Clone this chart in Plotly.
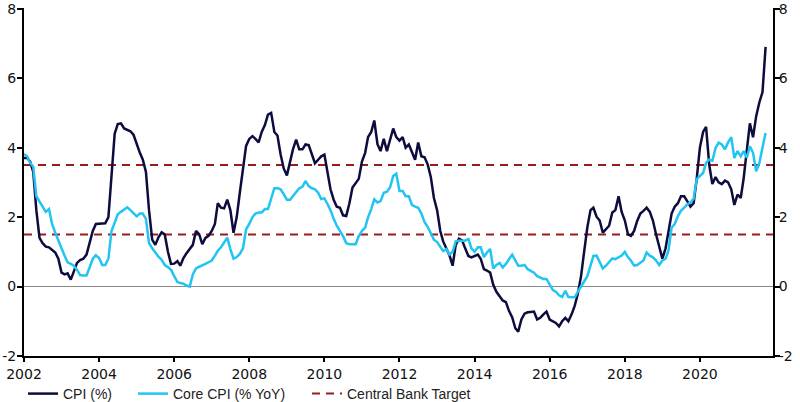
import pandas as pd
import plotly.graph_objects as go

# Monthly data, Jan 2002 .. Oct 2021
cpi = [
    3.7, 3.7, 3.6, 3.3, 2.2, 1.4, 1.25, 1.15, 1.13, 1.05, 0.98, 0.8,          # 2002
    0.4, 0.35, 0.38, 0.2, 0.42, 0.68, 0.76, 0.8, 0.92, 1.25, 1.6, 1.8,        # 2003
    1.8, 1.8, 1.82, 2.0, 3.3, 4.4, 4.68, 4.7, 4.55, 4.5, 4.47, 4.37,          # 2004
    4.1, 3.85, 3.66, 3.3, 2.2, 1.35, 1.2, 1.42, 1.56, 1.5, 1.0, 0.65,         # 2005
    0.66, 0.73, 0.6, 0.82, 0.96, 1.08, 1.2, 1.6, 1.5, 1.22, 1.4, 1.46,        # 2006
    1.6, 1.8, 2.4, 2.27, 2.25, 2.5, 2.2, 1.55, 2.0, 2.7, 3.45, 4.05,          # 2007
    4.25, 4.33, 4.25, 4.15, 4.45, 4.65, 4.95, 5.0, 4.45, 4.35, 3.8, 3.4,      # 2008
    3.2, 3.6, 3.95, 4.23, 3.95, 3.95, 4.09, 4.07, 3.8, 3.55, 3.65, 3.75,      # 2009
    3.8, 3.2, 2.8, 2.5, 2.3, 2.27, 2.05, 2.03, 2.4, 2.85, 2.99, 3.1,          # 2010
    3.6, 3.85, 4.3, 4.45, 4.78, 4.1, 3.9, 4.25, 3.9, 4.2, 4.55, 4.3,          # 2011
    4.2, 4.3, 4.0, 4.09, 3.85, 3.65, 4.15, 3.75, 3.72, 3.52, 3.15, 2.55,      # 2012
    2.2, 1.6, 1.3, 1.1, 0.9, 0.6, 1.2, 1.38, 1.33, 1.1, 0.88, 0.84,           # 2013
    0.88, 0.92, 0.8, 0.5, 0.46, 0.4, 0.05, -0.15, -0.28, -0.4, -0.45, -0.7,   # 2014
    -0.88, -1.2, -1.3, -0.95, -0.78, -0.74, -0.73, -0.72, -0.95, -0.9, -0.8, -0.72,  # 2015
    -0.95, -1.0, -1.05, -1.15, -1.0, -0.9, -1.0, -0.8, -0.55, -0.2, 0.3, 1.0,  # 2016
    1.7, 2.2, 2.27, 2.01, 1.9, 1.55, 1.65, 1.75, 2.13, 2.2, 2.6, 2.15,        # 2017
    1.9, 1.5, 1.46, 1.6, 1.89, 2.1, 2.18, 2.27, 2.15, 1.9, 1.5, 1.15,         # 2018
    0.8, 1.1, 1.6, 2.1, 2.3, 2.4, 2.6, 2.6, 2.45, 2.3, 2.4, 3.1,              # 2019
    4.0, 4.45, 4.6, 3.5, 2.95, 3.15, 3.0, 2.95, 3.05, 3.0, 2.8, 2.35,         # 2020
    2.65, 2.55, 3.1, 4.0, 4.7, 4.3, 4.9, 5.3, 5.6, 6.9,                       # 2021
]

core_cpi = [
    3.82, 3.75, 3.56, 3.45, 2.6, 2.45, 2.27, 2.15, 2.23, 1.8, 1.55, 1.3,      # 2002
    1.1, 0.88, 0.7, 0.65, 0.6, 0.48, 0.33, 0.32, 0.32, 0.55, 0.8, 0.9,        # 2003
    0.82, 0.62, 0.62, 0.8, 1.6, 1.84, 2.08, 2.15, 2.22, 2.28, 2.2, 2.1,       # 2004
    2.02, 2.1, 2.1, 1.95, 1.25, 1.1, 0.97, 0.86, 0.77, 0.62, 0.56, 0.48,      # 2005
    0.3, 0.13, 0.1, 0.08, 0.03, 0.0, 0.35, 0.52, 0.57, 0.6, 0.65, 0.7,        # 2006
    0.75, 0.89, 1.03, 1.13, 1.27, 1.41, 1.08, 0.8, 0.85, 0.94, 1.1, 1.65,     # 2007
    1.8, 2.0, 2.1, 2.13, 2.13, 2.23, 2.23, 2.56, 2.83, 2.83, 2.8, 2.66,       # 2008
    2.5, 2.5, 2.6, 2.72, 2.83, 2.87, 3.04, 2.89, 2.83, 2.8, 2.7, 2.52,        # 2009
    2.54, 2.37, 2.2, 1.95, 1.75, 1.6, 1.45, 1.25, 1.22, 1.22, 1.22, 1.45,     # 2010
    1.6, 1.7, 1.99, 2.23, 2.51, 2.42, 2.46, 2.7, 2.73, 2.85, 3.18, 3.25,      # 2011
    2.75, 2.75, 2.6, 2.6, 2.35, 2.3, 2.27, 2.1, 1.85, 1.72, 1.55, 1.35,       # 2012
    1.28, 1.15, 1.02, 1.08, 0.92, 1.0, 1.3, 1.32, 1.32, 1.32, 1.37, 1.1,      # 2013
    1.0, 1.13, 1.13, 0.85, 0.98, 1.08, 0.52, 0.62, 0.68, 0.55, 0.65, 0.8,     # 2014
    0.92, 0.75, 0.6, 0.6, 0.62, 0.5, 0.44, 0.4, 0.3, 0.25, 0.22, 0.22,        # 2015
    0.05, -0.1, -0.15, -0.25, -0.3, -0.12, -0.3, -0.31, -0.31, -0.15, 0.0, 0.12,  # 2016
    0.3, 0.6, 0.88, 0.89, 0.7, 0.52, 0.6, 0.72, 0.81, 0.79, 0.84, 0.89,       # 2017
    1.0, 0.84, 0.75, 0.6, 0.62, 0.7, 0.75, 0.98, 0.89, 0.84, 0.75, 0.62,      # 2018
    0.75, 0.8, 1.03, 1.7, 1.8, 2.03, 2.18, 2.27, 2.37, 2.42, 2.53, 3.09,      # 2019
    3.18, 3.27, 3.56, 3.66, 3.62, 3.99, 4.14, 4.09, 3.95, 4.15, 4.3, 3.7,     # 2020
    3.9, 3.75, 3.9, 3.71, 4.04, 3.85, 3.32, 3.55, 4.0, 4.42,                  # 2021
]

target_band = [3.5, 1.5]
y_ticks = [-2, 0, 2, 4, 6, 8]
y_tick_labels = ["-2", "0", "2", "4", "6", "8"]
x_start, x_end = "2002-01-01", "2021-12-12"

dates = pd.date_range("2002-01-01", periods=len(cpi), freq="MS")

NAVY = "#0c0c3e"
CYAN = "#22c4f2"
RED = "#981c1c"
TICK_FONT = dict(family="DejaVu Sans", size=14, color="#111111")
LEG_FONT = dict(family="Liberation Sans, Arial", size=14, color="#222222")

fig = go.Figure()
fig.add_trace(go.Scatter(x=dates, y=cpi, mode="lines", name="CPI (%)",
                         line=dict(color=NAVY, width=2.5), legend="legend"))
fig.add_trace(go.Scatter(x=dates, y=core_cpi, mode="lines", name="Core CPI (% YoY)",
                         line=dict(color=CYAN, width=2.5), legend="legend2"))

for i, v in enumerate(target_band):
    fig.add_shape(type="line", xref="x domain", x0=0, x1=1, yref="y", y0=v, y1=v,
                  line=dict(color=RED, width=2, dash="8px,6px"), layer="below",
                  showlegend=(i == 0), name="Central Bank Target", legend="legend3")

axis_common = dict(showline=True, linecolor="black", linewidth=2, ticks="outside",
                   tickcolor="black", tickwidth=2, showgrid=False, tickfont=TICK_FONT,
                   automargin=False)

leg_common = dict(orientation="h", xref="container", yref="container", y=8 / 402,
                  xanchor="left", yanchor="middle", font=LEG_FONT,
                  bgcolor="rgba(0,0,0,0)", borderwidth=0)

fig.update_layout(
    width=800, height=402,
    margin=dict(l=24, r=27, t=8, b=46, autoexpand=False),
    paper_bgcolor="white", plot_bgcolor="white",
    xaxis=dict(type="date", range=[x_start, x_end], tick0="2002-01-01", dtick="M24",
               tickformat="%Y", ticklen=4, zeroline=False, **axis_common),
    yaxis=dict(range=[-2, 8.02], tickvals=y_ticks, ticktext=y_tick_labels, ticklen=5,
               ticklabelstandoff=-2, zeroline=True,
               zerolinecolor="#8a8a8a", zerolinewidth=1, **axis_common),
    yaxis2=dict(range=[-2, 8.02], tickvals=y_ticks, ticktext=y_tick_labels, ticklen=5,
                ticklabelstandoff=-4, overlaying="y", side="right",
                zeroline=False, **axis_common),
    legend=dict(x=23 / 800, **leg_common),
    legend2=dict(x=133 / 800, **leg_common),
    legend3=dict(x=307 / 800, **leg_common),
)

# invisible trace so the right-hand axis is drawn
fig.add_trace(go.Scatter(x=[dates[0]], y=[cpi[0]], yaxis="y2", mode="lines",
                         showlegend=False, hoverinfo="skip", line=dict(width=0)))

fig.write_html("out.html", config={"displayModeBar": False},
               post_script="document.body.style.margin='0';document.body.style.overflow='hidden';")
